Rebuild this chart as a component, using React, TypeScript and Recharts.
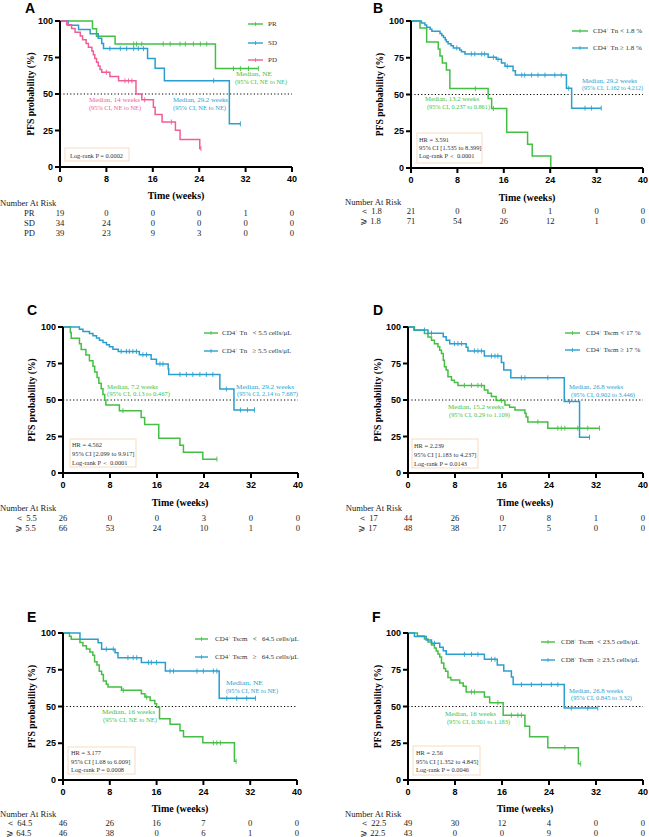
import React from "react";
import { LineChart, Line, XAxis, YAxis, ReferenceLine } from "recharts";

type Step = [number, number];

const weekTicks = [0, 8, 16, 24, 32, 40];
const pctTicks = [0, 25, 50, 75, 100];

// A: response groups
const aPrSteps: Step[] = [[5.6, 94.7], [6.3, 89.5], [9.5, 84.2], [26.8, 67.4]];
const aPrCensor = [12.7, 13.2, 14.1, 17.8, 19.0, 20.7, 21.6, 23.0, 24.2, 25.3, 29.9, 31.1, 32.5, 34.2];
const aSdSteps: Step[] = [[1.4, 97.1], [3.2, 94.1], [5.2, 91.2], [6.6, 88.2], [7.2, 84.6], [7.5, 81.1], [15.1, 74.4], [16.4, 67.6], [18.0, 59.1], [29.2, 29.6]];
const aSdCensor = [8.6, 10.4, 11.5, 12.7, 13.5, 14.4, 26.5, 31.1];
const aPdSteps: Step[] = [[1.15, 97.4], [2.0, 94.9], [2.6, 92.3], [3.5, 89.7], [3.9, 87.2], [4.5, 84.6], [4.9, 82.1], [5.5, 79.5], [5.75, 76.9], [6.0, 74.4], [6.3, 71.8], [6.6, 69.2], [6.9, 66.7], [7.2, 64.9], [8.6, 62.0], [10.1, 59.0], [13.1, 50.0], [14.1, 46.0], [16.1, 41.0], [16.4, 36.0], [17.6, 30.8], [19.9, 25.2], [20.7, 18.9], [24.1, 12.6]];
const aPdCensor = [8.0, 11.2, 11.8, 12.4, 14.6, 19.2, 24.3];

// B: CD4+ Tn %
const bLoSteps: Step[] = [[1.55, 95.2], [2.7, 85.7], [4.7, 81.0], [5.0, 76.2], [5.4, 71.4], [6.1, 66.7], [6.7, 54.0], [13.3, 47.3], [13.9, 40.5], [16.5, 24.3], [20.1, 16.2], [20.9, 8.1], [24.1, 0]];
const bLoCensor = [11.1, 14.2];
const bHiSteps: Step[] = [[1.8, 98.6], [2.4, 97.2], [2.7, 95.8], [3.3, 94.4], [3.6, 93.0], [5.0, 91.5], [5.3, 90.1], [5.6, 88.7], [5.9, 87.3], [6.1, 85.9], [6.4, 84.5], [6.9, 83.1], [7.3, 81.7], [8.4, 80.2], [8.7, 79.0], [9.3, 77.6], [13.3, 75.3], [14.7, 73.9], [15.6, 71.5], [16.2, 69.3], [17.6, 66.2], [18.0, 63.2], [26.8, 54.2], [27.7, 40.7]];
const bHiCensor = [7.9, 10.4, 11.0, 12.2, 12.7, 14.2, 15.0, 16.6, 19.1, 19.6, 20.8, 21.9, 23.1, 24.8, 25.9, 27.2, 30.0, 31.1, 32.8];

// C: CD4+ Tn cells/uL
const cLoSteps: Step[] = [[1.25, 96.2], [1.4, 92.3], [2.8, 88.5], [3.1, 84.6], [3.9, 80.8], [4.5, 76.9], [5.1, 73.1], [5.4, 69.2], [5.8, 65.4], [6.1, 61.5], [6.5, 57.7], [6.8, 53.8], [7.1, 50.0], [7.3, 46.6], [9.6, 42.6], [13.3, 38.0], [13.9, 33.2], [16.3, 23.8], [19.9, 19.0], [20.5, 14.2], [23.8, 9.5]];
const cLoCensor = [10.2, 26.2];
const cHiSteps: Step[] = [[2.8, 98.5], [3.4, 97.0], [4.5, 95.5], [5.1, 94.0], [5.7, 92.4], [6.2, 90.9], [6.8, 89.4], [7.4, 87.9], [7.9, 86.4], [8.5, 84.8], [9.4, 83.3], [13.0, 81.0], [15.0, 77.9], [15.9, 74.7], [17.9, 71.2], [18.0, 67.5], [26.7, 57.5], [29.1, 43.2]];
const cHiCensor = [9.9, 10.8, 11.3, 11.9, 12.5, 13.6, 14.2, 16.5, 17.0, 19.9, 21.0, 22.1, 23.3, 24.4, 25.5, 27.8, 30.2, 31.4, 32.6];

// D: CD4+ Tscm %
const dLoSteps: Step[] = [[1.1, 97.7], [2.8, 95.5], [3.4, 93.2], [4.0, 90.9], [4.5, 88.6], [5.1, 86.4], [5.4, 84.1], [5.7, 81.8], [6.0, 77.3], [6.2, 72.7], [6.5, 70.5], [6.8, 65.9], [7.4, 63.6], [7.9, 62.0], [8.5, 60.0], [13.0, 56.9], [13.6, 54.7], [14.2, 52.4], [15.0, 49.6], [16.5, 46.6], [17.3, 45.0], [18.2, 43.2], [19.9, 40.9], [20.1, 38.3], [20.4, 35.0], [23.8, 30.7]];
const dLoCensor = [9.6, 10.8, 11.9, 12.5, 15.9, 22.1, 25.5, 26.1, 26.7, 28.9, 30.6, 32.6];
const dHiSteps: Step[] = [[1.0, 97.9], [3.4, 95.8], [6.0, 93.3], [6.5, 90.9], [7.1, 88.6], [9.9, 86.2], [10.2, 83.6], [13.0, 80.1], [15.9, 75.6], [16.3, 70.6], [17.5, 65.2], [26.6, 48.9], [29.2, 24.5]];
const dHiCensor = [2.8, 4.0, 7.9, 8.5, 9.1, 11.3, 11.9, 12.5, 14.2, 14.8, 15.3, 19.3, 19.9, 23.8, 27.5, 30.9];

// E: CD4+ Tscm cells/uL
const eLoSteps: Step[] = [[1.1, 97.8], [1.4, 95.7], [2.9, 93.5], [3.4, 91.3], [4.0, 89.1], [4.6, 87.0], [5.1, 84.8], [5.4, 80.4], [5.8, 78.3], [6.2, 73.9], [6.6, 71.7], [6.9, 67.4], [7.4, 65.2], [7.7, 63.3], [10.0, 61.0], [13.4, 58.7], [14.0, 56.4], [14.9, 54.1], [15.7, 51.8], [16.0, 49.5], [16.5, 41.6], [18.3, 38.0], [20.0, 33.5], [20.6, 29.4], [23.9, 25.3], [29.3, 12.7]];
const eLoCensor = [10.3, 14.3, 25.7, 26.3, 26.9, 29.6];
const eHiSteps: Step[] = [[2.9, 95.7], [6.0, 93.3], [6.6, 89.0], [8.9, 86.5], [9.4, 83.2], [13.4, 80.0], [17.5, 74.1], [26.7, 55.6]];
const eHiCensor = [7.4, 8.6, 11.1, 12.0, 12.6, 14.6, 15.1, 16.0, 18.3, 18.9, 22.9, 24.0, 25.7, 26.3, 28.0, 29.7, 31.4, 32.9];

// F: CD8+ Tscm cells/uL
const fLoSteps: Step[] = [[1.6, 98.0], [2.8, 95.9], [3.4, 93.9], [4.0, 91.8], [4.5, 89.8], [4.8, 87.8], [5.1, 85.7], [5.4, 83.7], [5.7, 79.6], [6.1, 75.9], [6.4, 73.9], [6.8, 69.8], [7.3, 68.0], [8.8, 66.0], [9.4, 63.8], [9.9, 59.9], [13.0, 56.4], [13.9, 52.6], [16.2, 44.1], [19.9, 36.6], [20.7, 29.4], [23.8, 22.0], [29.0, 11.0]];
const fLoCensor = [10.8, 11.3, 15.3, 17.6, 18.7, 19.3, 26.7, 29.4];
const fHiSteps: Step[] = [[1.1, 97.7], [3.1, 95.2], [4.0, 93.0], [5.4, 90.3], [6.0, 88.0], [6.5, 85.5], [13.0, 82.1], [15.2, 78.3], [16.3, 74.2], [17.6, 70.0], [17.9, 64.9], [26.6, 48.9]];
const fHiCensor = [4.5, 9.6, 10.8, 11.9, 14.2, 14.8, 19.3, 21.0, 22.7, 24.4, 25.5, 27.8, 30.6, 32.3];

// numbers at risk (at 0, 8, 16, 24, 32, 40 weeks)
const aRisk = [[19, 0, 0, 0, 1, 0], [34, 24, 0, 0, 0, 0], [39, 23, 9, 3, 0, 0]];
const bRisk = [[21, 0, 0, 1, 0, 0], [71, 54, 26, 12, 1, 0]];
const cRisk = [[26, 0, 0, 3, 0, 0], [66, 53, 24, 10, 1, 0]];
const dRisk = [[44, 26, 0, 8, 1, 0], [48, 38, 17, 5, 0, 0]];
const eRisk = [[46, 26, 16, 7, 0, 0], [46, 38, 0, 6, 1, 0]];
const fRisk = [[49, 30, 12, 4, 0, 0], [43, 0, 0, 9, 0, 0]];

const GREEN = "#44bf44";
const BLUE = "#2a9fcf";
const PINK = "#ef5e98";
const SERIF = "'Liberation Serif', 'Times New Roman', serif";
const SANS = "'Liberation Sans', Arial, sans-serif";

type Pt = { t: number; s: number; c?: boolean };

function buildCurve(steps: Step[], end: number, censor: number[]): Pt[] {
  const level = (t: number) => {
    let s = 100;
    steps.forEach(([st, sv]) => {
      if (st <= t) s = sv;
    });
    return s;
  };
  const pts: Pt[] = [{ t: 0, s: 100 }];
  steps.forEach(([t, s]) => pts.push({ t, s }));
  censor.forEach((t) => pts.push({ t, s: level(t), c: true }));
  if (!censor.includes(end)) pts.push({ t: end, s: level(end) });
  return pts.sort((a, b) => a.t - b.t);
}

const lastOf = (steps: Step[], censor: number[]) =>
  Math.max(steps[steps.length - 1][0], ...censor);

type Curve = { color: string; points: Pt[] };
type Label = { base: string; rest: string };

const sup = (base: string, rest: string): Label => ({ base, rest });

const panels = [
  {
    id: "A", left: 60, right: 292, top: 21, bottom: 167,
    letter: [25, 12.7], yTitle: [30, 94], xTitle: [176, 195],
    curves: [
      { color: GREEN, points: buildCurve(aPrSteps, lastOf(aPrSteps, aPrCensor), aPrCensor) },
      { color: BLUE, points: buildCurve(aSdSteps, lastOf(aSdSteps, aSdCensor), aSdCensor) },
      { color: PINK, points: buildCurve(aPdSteps, lastOf(aPdSteps, aPdCensor), aPdCensor) },
    ] as Curve[],
    legend: { x1: 248, x2: 263, tx: 268, ys: [24, 43, 60], colors: [GREEN, BLUE, PINK],
      labels: [sup("", "PR"), sup("", "SD"), sup("", "PD")] },
    notes: [
      { x: 236, y: 74, w: 36, c: GREEN, t: "Median, NE" }, { x: 235, y: 81.5, w: 52, c: GREEN, t: "(95% CI, NE to NE)" },
      { x: 89, y: 100, w: 51, c: PINK, t: "Median, 14 weeks" }, { x: 89, y: 107.5, w: 52, c: PINK, t: "(95% CI, NE to NE)" },
      { x: 173, y: 100, w: 55, c: BLUE, t: "Median, 29.2 weeks" }, { x: 173, y: 107.5, w: 53, c: BLUE, t: "(95% CI, NE to NE)" },
    ],
    box: { x: 65, y: 148, w: 64, h: 13, tx: 70, ys: [155], lines: ["Log-rank P = 0.0002"] },
    risk: { tx: 0, ty: 203, lx: 24, ys: [213.3, 223.3, 233.3], labels: ["PR", "SD", "PD"], rows: aRisk },
  },
  {
    id: "B", left: 411, right: 643, top: 21, bottom: 168,
    letter: [373, 12.7], yTitle: [379, 94.5], xTitle: [527, 197],
    curves: [
      { color: GREEN, points: buildCurve(bLoSteps, lastOf(bLoSteps, bLoCensor), bLoCensor) },
      { color: BLUE, points: buildCurve(bHiSteps, lastOf(bHiSteps, bHiCensor), bHiCensor) },
    ] as Curve[],
    legend: { x1: 572, x2: 588, tx: 593, ys: [31, 48], colors: [GREEN, BLUE],
      labels: [sup("CD4", " Tn < 1.8 %"), sup("CD4", " Tn \u2265 1.8 %")] },
    notes: [
      { x: 582, y: 80.5, w: 55, c: BLUE, t: "Median, 29.2 weeks" }, { x: 582, y: 88.3, w: 61, c: BLUE, t: "(95% CI, 1.162 to 4.212)", fs: 6 },
      { x: 425, y: 99, w: 54, c: GREEN, t: "Median, 13.2 weeks" }, { x: 427, y: 107, w: 63, c: GREEN, t: "(95% CI, 0.237 to 0.861)" },
    ],
    box: { x: 417, y: 133, w: 65, h: 30, tx: 419, ys: [139.3, 147, 155], lines: ["HR = 3.591", "95% CI [1.535 to 8.399]", "Log-rank P \uFF1C 0.0001"] },
    risk: { tx: 345, ty: 202, lx: 360, ys: [211, 221], labels: ["\uFF1C 1.8", "\u2A7E 1.8"], rows: bRisk },
  },
  {
    id: "C", left: 63, right: 298, top: 327, bottom: 473,
    letter: [27, 315], yTitle: [31.5, 400], xTitle: [180, 502],
    curves: [
      { color: GREEN, points: buildCurve(cLoSteps, lastOf(cLoSteps, cLoCensor), cLoCensor) },
      { color: BLUE, points: buildCurve(cHiSteps, lastOf(cHiSteps, cHiCensor), cHiCensor) },
    ] as Curve[],
    legend: { x1: 204, x2: 218, tx: 222, ys: [333, 351], colors: [GREEN, BLUE],
      labels: [sup("CD4", " Tn   < 5.5 cells/\u03BCL"), sup("CD4", " Tn   \u2265 5.5 cells/\u03BCL")] },
    notes: [
      { x: 107, y: 387, w: 51, c: GREEN, t: "Median, 7.2 weeks" }, { x: 107, y: 394, w: 63, c: GREEN, t: "(95% CI, 0.13 to 0.467)" },
      { x: 236, y: 387, w: 58, c: BLUE, t: "Median, 29.2 weeks" }, { x: 237, y: 394, w: 61, c: BLUE, t: "(95% CI, 2.14 to 7.687)" },
    ],
    box: { x: 70, y: 439, w: 66, h: 28, tx: 72, ys: [444, 453, 462], lines: ["HR = 4.562", "95% CI [2.099 to 9.917]", "Log-rank P \uFF1C 0.0001"] },
    risk: { tx: 0, ty: 508.3, lx: 15, ys: [517.7, 527.7], labels: ["\uFF1C 5.5", "\u2A7E 5.5"], rows: cRisk },
  },
  {
    id: "D", left: 408, right: 643, top: 327, bottom: 473,
    letter: [373, 315], yTitle: [377.5, 400], xTitle: [525, 502],
    curves: [
      { color: GREEN, points: buildCurve(dLoSteps, lastOf(dLoSteps, dLoCensor), dLoCensor) },
      { color: BLUE, points: buildCurve(dHiSteps, lastOf(dHiSteps, dHiCensor), dHiCensor) },
    ] as Curve[],
    legend: { x1: 565, x2: 580, tx: 586, ys: [333, 350], colors: [GREEN, BLUE],
      labels: [sup("CD4", " Tscm < 17 %"), sup("CD4", " Tscm \u2265 17 %")] },
    notes: [
      { x: 569, y: 387, w: 54, c: BLUE, t: "Median, 26.8 weeks" }, { x: 571, y: 395, w: 64, c: BLUE, t: "(95% CI, 0.902 to 3.446)" },
      { x: 448, y: 407, w: 56, c: GREEN, t: "Median, 15.2 weeks" }, { x: 449, y: 415, w: 61, c: GREEN, t: "(95% CI, 0.29 to 1.109)" },
    ],
    box: { x: 412, y: 439, w: 66, h: 29, tx: 414, ys: [445, 454, 463], lines: ["HR = 2.239", "95% CI [1.183 to 4.237]", "Log-rank P = 0.0143"] },
    risk: { tx: 345.7, ty: 508.3, lx: 358, ys: [517.7, 527.7], labels: ["\uFF1C 17", "\u2A7E 17"], rows: dRisk },
  },
  {
    id: "E", left: 63, right: 297, top: 633, bottom: 780,
    letter: [27, 622], yTitle: [31.5, 706.5], xTitle: [180, 808],
    curves: [
      { color: GREEN, points: buildCurve(eLoSteps, lastOf(eLoSteps, eLoCensor), eLoCensor) },
      { color: BLUE, points: buildCurve(eHiSteps, lastOf(eHiSteps, eHiCensor), eHiCensor) },
    ] as Curve[],
    legend: { x1: 195, x2: 208, tx: 215, ys: [639, 657], colors: [GREEN, BLUE],
      labels: [sup("CD4", " Tscm   <   64.5 cells/\u03BCL"), sup("CD4", " Tscm   \u2265   64.5 cells/\u03BCL")] },
    notes: [
      { x: 226, y: 683, w: 37, c: BLUE, t: "Median, NE" }, { x: 226, y: 690.5, w: 52, c: BLUE, t: "(95% CI, NE to NE)" },
      { x: 102, y: 712, w: 53, c: GREEN, t: "Median, 16 weeks" }, { x: 103, y: 719.5, w: 54, c: GREEN, t: "(95% CI, NE to NE)" },
    ],
    box: { x: 68, y: 747, w: 67, h: 27, tx: 71, ys: [752.3, 761, 769.5], lines: ["HR = 3.177", "95% CI [1.68 to 6.009]", "Log-rank P = 0.0008"] },
    risk: { tx: 0, ty: 814, lx: 6, ys: [823.3, 832.7], labels: ["\uFF1C 64.5", "\u2A7E 64.5"], rows: eRisk },
  },
  {
    id: "F", left: 408, right: 643, top: 633, bottom: 780,
    letter: [372, 622], yTitle: [377.5, 706.5], xTitle: [525, 808],
    curves: [
      { color: GREEN, points: buildCurve(fLoSteps, lastOf(fLoSteps, fLoCensor), fLoCensor) },
      { color: BLUE, points: buildCurve(fHiSteps, lastOf(fHiSteps, fHiCensor), fHiCensor) },
    ] as Curve[],
    legend: { x1: 541, x2: 555, tx: 561, ys: [642, 660], colors: [GREEN, BLUE],
      labels: [sup("CD8", " Tscm  < 23.5 cells/\u03BCL"), sup("CD8", " Tscm  \u2265 23.5 cells/\u03BCL")] },
    notes: [
      { x: 569, y: 691, w: 54, c: BLUE, t: "Median, 26.8 weeks" }, { x: 571, y: 698, w: 61, c: BLUE, t: "(95% CI, 0.845 to 3.32)" },
      { x: 445, y: 714, w: 51, c: GREEN, t: "Median, 16 weeks" }, { x: 447, y: 722, w: 63, c: GREEN, t: "(95% CI, 0.301 to 1.183)" },
    ],
    box: { x: 413, y: 746, w: 67, h: 29, tx: 416, ys: [752.3, 761, 769.5], lines: ["HR = 2.56", "95% CI [1.352 to 4.845]", "Log-rank P = 0.0046"] },
    risk: { tx: 345, ty: 814, lx: 360, ys: [823.3, 832.7], labels: ["\uFF1C 22.5", "\u2A7E 22.5"], rows: fRisk },
  },
];

type Panel = (typeof panels)[number];
type Note = { x: number; y: number; w: number; c: string; t: string; fs?: number };

const censorDot = (color: string) => (props: any) => {
  const { cx, cy, payload, index } = props;
  if (!payload || !payload.c || cx == null) return <g key={`n${index}`} />;
  return (
    <line key={`c${index}`} x1={cx} x2={cx} y1={cy - 2.5} y2={cy + 2.5} stroke={color} strokeWidth={0.9} />
  );
};

const tickStyle = { fill: "#000", fontSize: 9, fontWeight: 700, fontFamily: SANS };
const axisStroke = { stroke: "#000", strokeWidth: 2 };

function KmPanel({ p }: { p: Panel }) {
  const W = p.right - p.left + 50;
  const H = p.bottom - p.top + 35;
  return (
    <div style={{ position: "absolute", left: p.left - 40, top: p.top - 10 }}>
      <LineChart width={W} height={H} margin={{ top: 10, right: 10, bottom: 0, left: 0 }}>
        <XAxis
          type="number"
          dataKey="t"
          domain={[0, 40]}
          ticks={weekTicks}
          height={25}
          tickSize={5}
          tickMargin={4}
          axisLine={axisStroke}
          tickLine={axisStroke}
          tick={tickStyle}
        />
        <YAxis
          type="number"
          domain={[0, 100]}
          ticks={pctTicks}
          width={40}
          tickSize={5}
          tickMargin={2}
          axisLine={axisStroke}
          tickLine={axisStroke}
          tick={tickStyle}
        />
        <ReferenceLine y={50} stroke="#000" strokeDasharray="1.2 2.2" strokeWidth={1} />
        {p.curves.map((c, i) => (
          <Line
            key={i}
            data={c.points}
            dataKey="s"
            type="stepAfter"
            stroke={c.color}
            strokeWidth={1.5}
            dot={censorDot(c.color)}
            activeDot={false}
            legendType="none"
            isAnimationActive={false}
          />
        ))}
      </LineChart>
    </div>
  );
}

function LegendText({ x, y, l }: { x: number; y: number; l: Label }) {
  return (
    <text x={x} y={y} dominantBaseline="central" fontSize={7} fill="#333" fontFamily={SERIF} style={{ whiteSpace: "pre" }}>
      {l.base ? (
        <>
          {l.base}
          <tspan fontSize={4.5} dy={-2.5}>+</tspan>
          <tspan dy={2.5}>{l.rest}</tspan>
        </>
      ) : (
        l.rest
      )}
    </text>
  );
}

function Overlay() {
  return (
    <svg width={649} height={837} style={{ position: "absolute", left: 0, top: 0, pointerEvents: "none" }}>
      {panels.map((p) => {
        const tickX = (w: number) => p.left + (w / 40) * (p.right - p.left);
        return (
          <g key={p.id}>
            <text x={p.letter[0]} y={p.letter[1]} fontSize={14} fontWeight={700} fontFamily={SANS} fill="#000">
              {p.id}
            </text>
            <text
              x={p.yTitle[0]}
              y={p.yTitle[1]}
              transform={`rotate(-90 ${p.yTitle[0]} ${p.yTitle[1]})`}
              textAnchor="middle"
              dominantBaseline="central"
              fontSize={9.6}
              fontWeight={700}
              fontFamily={SERIF}
              fill="#000"
            >
              PFS probability (%)
            </text>
            <text x={p.xTitle[0]} y={p.xTitle[1]} textAnchor="middle" dominantBaseline="central" fontSize={10} fontWeight={700} fontFamily={SERIF} fill="#000">
              Time (weeks)
            </text>
            {p.legend.ys.map((y, i) => {
              const mid = (p.legend.x1 + p.legend.x2) / 2;
              return (
                <g key={i}>
                  <line x1={p.legend.x1} x2={p.legend.x2} y1={y} y2={y} stroke={p.legend.colors[i]} strokeWidth={1.4} />
                  <line x1={mid} x2={mid} y1={y - 2} y2={y + 2} stroke={p.legend.colors[i]} strokeWidth={0.8} />
                  <LegendText x={p.legend.tx} y={y} l={p.legend.labels[i]} />
                </g>
              );
            })}
            {(p.notes as Note[]).map((n, i) => (
              <text
                key={i}
                x={n.x}
                y={n.y}
                dominantBaseline="central"
                fontSize={n.fs ?? 7}
                fill={n.c}
                fontFamily={SERIF}
                textLength={n.w}
                lengthAdjust="spacingAndGlyphs"
              >
                {n.t}
              </text>
            ))}
            <rect x={p.box.x} y={p.box.y} width={p.box.w} height={p.box.h} fill="#fff" stroke="#f6d2b0" strokeWidth={0.8} />
            {p.box.lines.map((t, i) => (
              <text key={i} x={p.box.tx} y={p.box.ys[i]} dominantBaseline="central" fontSize={6.4} fill="#333" fontFamily={SERIF}>
                {t}
              </text>
            ))}
            <text x={p.risk.tx} y={p.risk.ty} dominantBaseline="central" fontSize={8.6} fill="#222" fontFamily={SERIF}>
              Number At Risk
            </text>
            {p.risk.rows.map((row, r) => (
              <g key={r}>
                <text x={p.risk.lx} y={p.risk.ys[r]} dominantBaseline="central" fontSize={8.6} fill="#222" fontFamily={SERIF} style={{ whiteSpace: "pre" }}>
                  {p.risk.labels[r]}
                </text>
                {row.map((v, k) => (
                  <text key={k} x={tickX(weekTicks[k])} y={p.risk.ys[r]} textAnchor="middle" dominantBaseline="central" fontSize={8.6} fill="#222" fontFamily={SERIF}>
                    {v}
                  </text>
                ))}
              </g>
            ))}
          </g>
        );
      })}
    </svg>
  );
}

export default function App() {
  return (
    <div style={{ position: "absolute", left: 0, top: 0, width: 649, height: 837, background: "#fff", overflow: "hidden" }}>
      {panels.map((p) => (
        <KmPanel key={p.id} p={p} />
      ))}
      <Overlay />
    </div>
  );
}
